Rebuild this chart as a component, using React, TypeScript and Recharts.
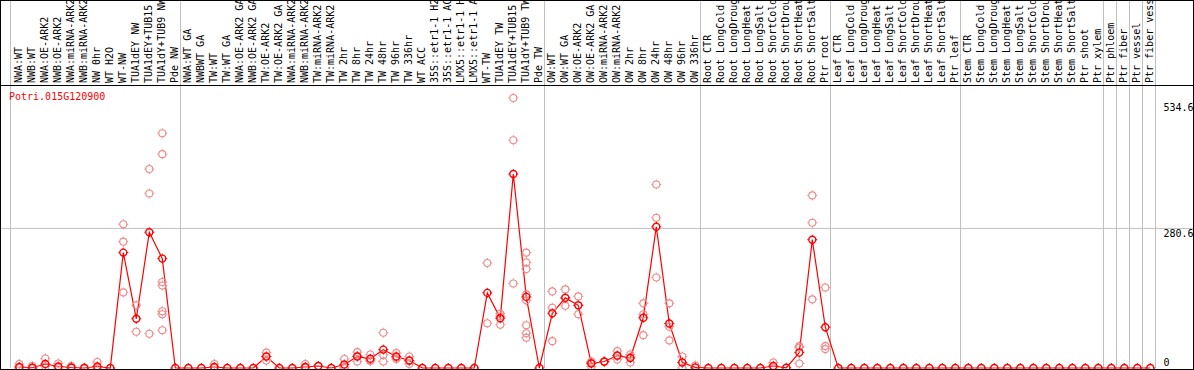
import { ComposedChart, Line, ReferenceLine, Scatter, XAxis, YAxis } from "recharts";

const geneId = "Potri.015G120900";

const categories = [
  "NWA:WT", "NWB:WT", "NWA:OE-ARK2", "NWB:OE-ARK2", "NWA:miRNA-ARK2", "NWB:miRNA-ARK2",
  "NW 0hr", "WT H2O", "WT-NW", "TUA1dEY NW", "TUA1dEY+TUB15 NW", "TUA1dY+TUB9 NW", "Pde NW",
  "NWA:WT GA", "NWBWT GA", "TW:WT", "TW:WT GA", "NWA:OE-ARK2 GA", "NWB:OE-ARK2 GA",
  "TW:OE-ARK2", "TW:OE-ARK2 GA", "NWA:miRNA-ARK2 GA", "NWB:miRNA-ARK2 GA", "TW:miRNA-ARK2",
  "TW:miRNA-ARK2 GA", "TW 2hr", "TW 8hr", "TW 24hr", "TW 48hr", "TW 96hr", "TW 336hr",
  "WT ACC", "35S::etr1-1 H2O", "35S::etr1-1 ACC", "LMX5::etr1-1 H2O", "LMX5::etr1-1 ACC",
  "WT-TW", "TUA1dEY TW", "TUA1dEY+TUB15 TW", "TUA1dY+TUB9 TW", "Pde TW",
  "OW:WT", "OW:WT GA", "OW:OE-ARK2", "OW:OE-ARK2 GA", "OW:miRNA-ARK2", "OW:miRNA-ARK2 GA",
  "OW 2hr", "OW 8hr", "OW 24hr", "OW 48hr", "OW 96hr", "OW 336hr",
  "Root CTR", "Root LongCold", "Root LongDrought", "Root LongHeat", "Root LongSalt",
  "Root ShortCold", "Root ShortDrought", "Root ShortHeat", "Root ShortSalt", "Ptr root",
  "Leaf CTR", "Leaf LongCold", "Leaf LongDrought", "Leaf LongHeat", "Leaf LongSalt",
  "Leaf ShortCold", "Leaf ShortDrought", "Leaf ShortHeat", "Leaf ShortSalt", "Ptr leaf",
  "Stem CTR", "Stem LongCold", "Stem LongDrought", "Stem LongHeat", "Stem LongSalt",
  "Stem ShortCold", "Stem ShortDrought", "Stem ShortHeat", "Stem ShortSalt", "Ptr shoot",
  "Ptr xylem", "Ptr phloem", "Ptr fiber", "Ptr vessel", "Ptr fiber vessel",
];

const meanValues = [
  2, 0.5, 8, 3, 1, 0, 3, 0, 232, 99, 273, 220, 0,
  0, 0, 2, 0, 0, 0, 23, 0, 0, 2, 4, 0, 7, 23, 18.5, 37, 23, 15,
  0, 0, 0, 0, 0, 151, 100, 390, 143, 0,
  110, 141, 126, 9, 13, 25, 20, 101, 284, 89.5, 11, 1.3,
  0, 0, 0, 0, 0, 4, 0.5, 31, 258, 82,
  0, 0, 0, 0, 0, 0, 0, 0, 0, 0,
  0, 0, 0, 0, 0, 0, 0, 0, 0, 0,
  0, 0, 0, 0, 0,
];

const replicateValues: number[][] = [
  [8, 0], [4, 0], [19, 3], [9, 0], [4, 0], [1, 0], [12, 0], [],
  [289, 254, 152], [126, 73], [400, 351, 69], [472, 430, 173, 166, 114, 108, 76], [],
  [], [], [8, 0], [], [], [], [31, 15, 23], [], [], [8, 0], [4], [], [18, 2, 0],
  [32, 13, 24], [27, 15, 14], [71, 26, 13], [30, 18, 21], [23, 8, 14],
  [], [], [], [], [], [211, 90], [109, 87, 104], [543, 458, 170],
  [232, 212, 199, 148, 136, 86, 70, 61], [],
  [154, 121, 54], [158, 125, 141], [144, 108, 126], [13, 3, 11], [13, 12], [34, 17, 24],
  [27, 11, 22], [130, 108, 66], [369, 302, 182], [130, 83, 55.5], [23, 0, 11], [5, 0],
  [], [], [], [], [], [11, 1], [], [44, 41, 9], [347, 292, 138], [162, 44, 38],
  [], [], [], [], [], [], [], [], [], [],
  [], [], [], [], [], [], [], [], [], [],
  [], [], [], [], [],
];

const yTicks = [0, 280.6, 534.6];
const groupBreaks = [-0.677, 12.4, 40.4, 52.4, 62.4, 72.4, 83.4, 84.4, 85.4, 86.4, 87.4];

const meanRows = meanValues.map((mean, x) => ({ x, mean }));
const repRows = replicateValues.flatMap((vals, x) => vals.map((v) => ({ x, v })));

const mono = "DejaVu Sans Mono";

const Ring = ({ cx, cy, color, width }: { cx: number; cy: number; color: string; width: number }) => (
  <g>
    <circle cx={cx} cy={cy} r={3.5} fill="none" stroke={color} strokeWidth={width} />
    <path
      d={`M${cx},${cy - 5}v1.5M${cx},${cy + 3.5}v1.5M${cx - 5},${cy}h1.5M${cx + 3.5},${cy}h1.5`}
      stroke={color}
      strokeWidth={1}
    />
  </g>
);

const CategoryTick = ({ x, y, payload }: any) => {
  const bx = x + 3;
  return (
    <text x={bx} y={y} transform={`rotate(-90 ${bx} ${y})`} fontSize={10} fontFamily={mono} fill="#000">
      {categories[payload.value]}
    </text>
  );
};

const ValueTick = ({ x, y, payload }: any) => (
  <text x={x} y={y + (payload.value === 0 ? -2 : 9)} fontSize={10} fontFamily={mono} fill="#000">
    {payload.value}
  </text>
);

export default function App() {
  return (
    <div style={{ position: "absolute", left: 0, top: 0, width: 1194, height: 370, background: "#fff" }}>
      <ComposedChart
        width={1194}
        height={370}
        data={meanRows}
        margin={{ top: 0, right: 0, bottom: 2, left: 10.2 }}
      >
        <XAxis
          dataKey="x"
          type="number"
          orientation="top"
          height={86}
          domain={[-0.7, 87.4]}
          ticks={categories.map((_, i) => i)}
          interval={0}
          tickSize={0}
          tickMargin={3}
          axisLine={false}
          tick={<CategoryTick />}
        />
        <YAxis
          orientation="right"
          width={38.5}
          domain={[0, 567]}
          ticks={yTicks}
          interval={0}
          tickSize={0}
          tickMargin={8}
          axisLine={false}
          tick={<ValueTick />}
        />
        {groupBreaks.map((b) => (
          <ReferenceLine
            key={b}
            segment={[{ x: b, y: 0 }, { x: b, y: 745 }]}
            stroke="#c0c0c0"
            ifOverflow="visible"
          />
        ))}
        <ReferenceLine
          segment={[{ x: -3, y: 280.6 }, { x: 92, y: 280.6 }]}
          stroke="#c0c0c0"
          ifOverflow="visible"
        />
        <Scatter
          data={repRows}
          dataKey="v"
          isAnimationActive={false}
          shape={(p: any) => <Ring cx={p.cx} cy={p.cy} color="#f08a8a" width={1.1} />}
        />
        <Line
          dataKey="mean"
          type="linear"
          stroke="#ff0000"
          strokeWidth={1.2}
          isAnimationActive={false}
          activeDot={false}
          dot={(p: any) => <Ring key={p.index} cx={p.cx} cy={p.cy} color="#ff0000" width={1.4} />}
        />
      </ComposedChart>
      <div
        style={{
          position: "absolute",
          left: 9,
          top: 91.5,
          fontFamily: mono,
          fontSize: 10,
          lineHeight: "10px",
          color: "#ff0000",
          whiteSpace: "nowrap",
        }}
      >
        {geneId}
      </div>
      <div style={{ position: "absolute", left: 0, top: 85, width: 1194, height: 1, background: "#000" }} />
      <div
        style={{
          position: "absolute",
          left: 0,
          top: 0,
          width: 1194,
          height: 370,
          boxSizing: "border-box",
          border: "1px solid #000",
          pointerEvents: "none",
        }}
      />
    </div>
  );
}
